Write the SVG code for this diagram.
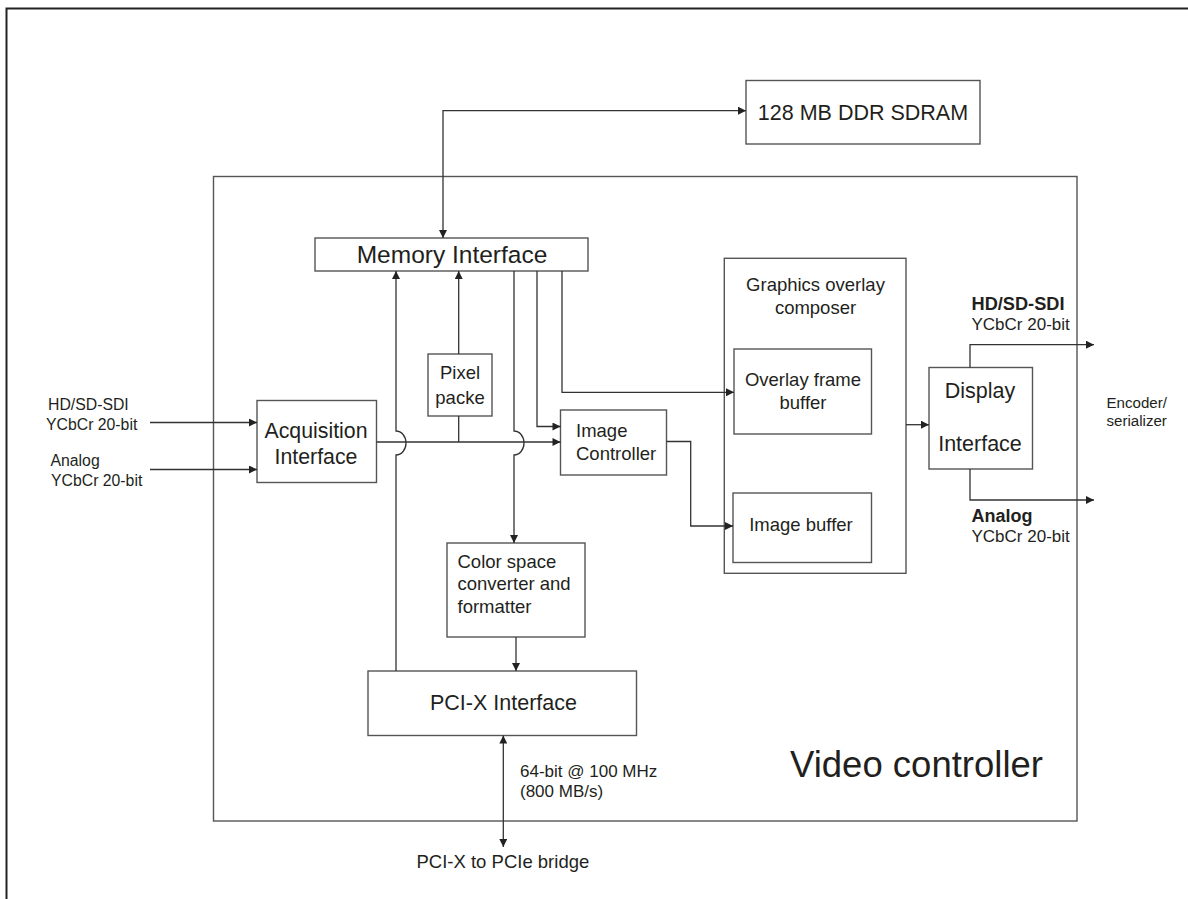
<svg xmlns="http://www.w3.org/2000/svg" width="1188" height="899" viewBox="0 0 1188 899">
<style>
.box{fill:#fff;stroke:#555;stroke-width:1.4}
.frame{fill:none;stroke:#222;stroke-width:2}
.c{fill:none;stroke:#333;stroke-width:1.3}
text{font-family:"Liberation Sans",Arial,sans-serif;fill:#231f20}
.m{text-anchor:middle}
.b{font-weight:bold}
</style>
<defs>
<marker id="ah" viewBox="0 0 10 10" refX="10" refY="5" markerWidth="9" markerHeight="8" markerUnits="userSpaceOnUse" orient="auto-start-reverse">
<path d="M0,0 L10,5 L0,10 z" fill="#222"/>
</marker>
</defs>
<rect width="1188" height="899" fill="#fff"/>
<path class="frame" d="M6.5,899 V8.5 H1188"/>

<g id="video-controller">
<rect class="box" x="213.5" y="176.5" width="863.5" height="644.5"/>
<text x="790" y="777" font-size="36.5">Video controller</text>
</g>

<g id="sdram">
<rect class="box" x="746" y="80.5" width="234" height="63.5"/>
<text class="m" x="863" y="119.5" font-size="21.5">128 MB DDR SDRAM</text>
</g>

<g id="memory-interface">
<rect class="box" x="315" y="238" width="273" height="33"/>
<text class="m" x="452" y="263" font-size="24.5">Memory Interface</text>
</g>

<g id="pixel-packer">
<rect class="box" x="428" y="354" width="64" height="62"/>
<text class="m" x="460" y="378.5" font-size="18.5">Pixel</text>
<text class="m" x="460" y="403.5" font-size="18.5">packe</text>
</g>

<g id="acquisition-interface">
<rect class="box" x="257" y="400.5" width="119.5" height="82"/>
<text class="m" x="316" y="437.5" font-size="21.3">Acquisition</text>
<text class="m" x="316" y="464" font-size="21.3">Interface</text>
</g>

<g id="image-controller">
<rect class="box" x="560.5" y="410" width="106" height="65"/>
<text x="576" y="437" font-size="18.5">Image</text>
<text x="576" y="459.5" font-size="18.5">Controller</text>
</g>

<g id="color-space-converter">
<rect class="box" x="447" y="543" width="138" height="94"/>
<text x="457.5" y="567.5" font-size="18.5">Color space</text>
<text x="457.5" y="590" font-size="18.5">converter and</text>
<text x="457.5" y="612.5" font-size="18.5">formatter</text>
</g>

<g id="pci-x-interface">
<rect class="box" x="368" y="671" width="268.5" height="64.5"/>
<text class="m" x="503.5" y="710" font-size="21.5">PCI-X Interface</text>
</g>

<g id="graphics-overlay-composer">
<rect class="box" x="724.3" y="258.3" width="181.7" height="315"/>
<text class="m" x="815.5" y="290.5" font-size="18.5">Graphics overlay</text>
<text class="m" x="815.5" y="313.5" font-size="18.5">composer</text>
</g>

<g id="overlay-frame-buffer">
<rect class="box" x="734" y="349" width="137.5" height="85"/>
<text class="m" x="803" y="386" font-size="18.5">Overlay frame</text>
<text class="m" x="803" y="408.5" font-size="18.5">buffer</text>
</g>

<g id="image-buffer">
<rect class="box" x="733" y="493" width="138.5" height="69.5"/>
<text class="m" x="801" y="531" font-size="18.5">Image buffer</text>
</g>

<g id="display-interface">
<rect class="box" x="929" y="367.5" width="103.5" height="101.5"/>
<text class="m" x="980" y="397.5" font-size="21.5">Display</text>
<text class="m" x="980" y="451" font-size="21.5">Interface</text>
</g>

<g id="labels">
<text x="48" y="410" font-size="15.8">HD/SD-SDI</text>
<text x="46" y="429.5" font-size="15.8">YCbCr 20-bit</text>
<text x="50.5" y="466" font-size="15.8">Analog</text>
<text x="51" y="485.5" font-size="15.8">YCbCr 20-bit</text>
<text class="b" x="971.5" y="310" font-size="18.2">HD/SD-SDI</text>
<text x="971.5" y="330" font-size="17">YCbCr 20-bit</text>
<text class="b" x="971.5" y="521.5" font-size="18">Analog</text>
<text x="971.5" y="541.5" font-size="17">YCbCr 20-bit</text>
<text x="1106.5" y="407.5" font-size="15.1">Encoder/</text>
<text x="1106.5" y="426" font-size="15.1">serializer</text>
<text x="520" y="777" font-size="17">64-bit @ 100 MHz</text>
<text x="520" y="797" font-size="17">(800 MB/s)</text>
<text x="416.5" y="867.5" font-size="18.5">PCI-X to PCIe bridge</text>
</g>

<g id="connectors">
<path class="c" d="M443,238 V110.7 H746" marker-start="url(#ah)" marker-end="url(#ah)"/>
<path class="c" d="M396,271 V431 A10 12 0 0 1 396,455 V671" marker-start="url(#ah)"/>
<path class="c" d="M458.7,271 V354" marker-start="url(#ah)"/>
<path class="c" d="M458.7,416 V442"/>
<path class="c" d="M514,271 V431 A10 12 0 0 1 514,455 V543" marker-end="url(#ah)"/>
<path class="c" d="M537,271 V426.5 H560.5" marker-end="url(#ah)"/>
<path class="c" d="M562,271 V392.3 H734" marker-end="url(#ah)"/>
<path class="c" d="M376.5,442 H560.5" marker-end="url(#ah)"/>
<path class="c" d="M150,422.5 H257" marker-end="url(#ah)"/>
<path class="c" d="M150,469.5 H257" marker-end="url(#ah)"/>
<path class="c" d="M666.5,441.5 H690.7 V526 H733" marker-end="url(#ah)"/>
<path class="c" d="M906,424.7 H929" marker-end="url(#ah)"/>
<path class="c" d="M970,367.5 V344.7 H1094" marker-end="url(#ah)"/>
<path class="c" d="M970,469 V500 H1094" marker-end="url(#ah)"/>
<path class="c" d="M516,637 V671" marker-end="url(#ah)"/>
<path class="c" d="M503.3,735.5 V847" marker-start="url(#ah)" marker-end="url(#ah)"/>
</g>
</svg>
